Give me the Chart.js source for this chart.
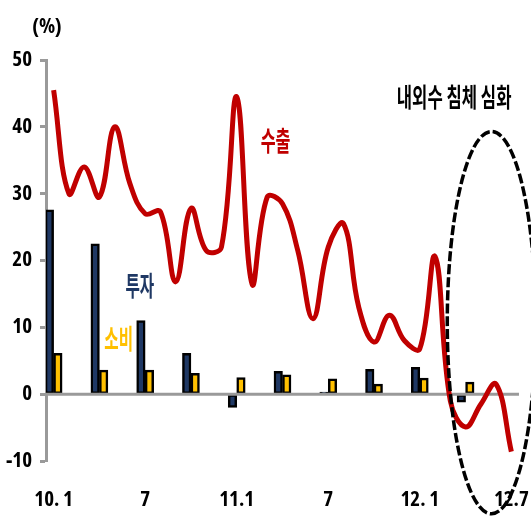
<!DOCTYPE html>
<html>
<head>
<meta charset="utf-8">
<script src="https://cdn.jsdelivr.net/npm/chart.js@4.4.1/dist/chart.umd.min.js"></script>
<style>
  html, body { margin: 0; padding: 0; background: #ffffff; }
  #wrap { width: 531px; height: 516px; position: relative; }
</style>
</head>
<body>
<div id="wrap"><canvas id="chart"></canvas></div>
<script>
// Monthly axis labels, Jan 2010 .. Jul 2012
const monthLabels = ['10. 1','','','','','','7','','','','','','11.1','','','','','','7','','','','','','12. 1','','','','','','12.7'];
// Y axis ticks (%)
const yTicks = [50, 40, 30, 20, 10, 0, -10];
// 수출 (exports), monthly YoY %
const exportsYoY = [45.5, 30.0, 34.0, 29.5, 40.0, 31.5, 27.0, 27.3, 16.8, 27.8, 21.5, 22.0, 44.5, 16.5, 29.5, 28.5, 21.5, 11.3, 22.0, 25.5, 13.0, 7.8, 11.8, 8.0, 6.8, 20.6, -1.0, -4.9, -1.5, 1.5, -8.6];
// 투자 (investment), quarterly YoY %
const investmentYoY = [27.6, null, null, 22.5, null, null, 11.0, null, null, 6.1, null, null, -2.0, null, null, 3.4, null, null, 0.3, null, null, 3.7, null, null, 4.0, null, null, -1.2, null, null, null];
// 소비 (consumption), quarterly YoY %
const consumptionYoY = [6.1, null, null, 3.6, null, null, 3.6, null, null, 3.1, null, null, 2.5, null, null, 2.9, null, null, 2.3, null, null, 1.5, null, null, 2.4, null, null, 1.8, null, null, null];

const NUM_FONT = "'Open Sans', 'Roboto', sans-serif";
const NUM_WEIGHT = 'bold condensed';
const KR_FONT = "'Noto Sans CJK KR', sans-serif";
const AXIS_GRAY = '#9a9a9a';

// Text annotations placed in data coordinates (month index, %)
const notes = [
  { text: '수출', color: '#c00000', m: 14.55, v: 37.9, size: 27, sx: 0.6 },
  { text: '투자', color: '#1f3864', m: 5.65, v: 16.2, size: 27, sx: 0.58 },
  { text: '소비', color: '#ffc000', m: 4.27, v: 8.3, size: 27, sx: 0.58 },
  { text: '내외수 침체 심화', color: '#000000', m: 26.25, v: 44.4, size: 26, sx: 0.64 }
];
// Dashed ring around the mid-2012 slump (data coordinates)
const ring = { m: 28.7, v: 10.7, rm: 2.9, rv: 28.6 };

const overlay = {
  id: 'overlay',
  beforeDatasetDraw(chart, args) {
    // zero line sits above the bars but under the export line
    if (args.index !== 0) return;
    const { ctx, chartArea, scales } = chart;
    const y0 = scales.y.getPixelForValue(0);
    ctx.save();
    ctx.strokeStyle = AXIS_GRAY;
    ctx.lineWidth = 3;
    ctx.beginPath();
    ctx.moveTo(chartArea.left, y0);
    ctx.lineTo(chartArea.right, y0);
    ctx.stroke();
    ctx.restore();
  },
  afterDraw(chart) {
    const { ctx, scales } = chart;
    const xs = scales.x, ys = scales.y;
    const unit = xs.getPixelForValue(1) - xs.getPixelForValue(0);
    const px = m => xs.getPixelForValue(0) + m * unit;
    ctx.save();
    // unit label
    ctx.fillStyle = '#000';
    ctx.font = NUM_WEIGHT + ' 21px ' + NUM_FONT;
    ctx.textAlign = 'center';
    ctx.textBaseline = 'middle';
    ctx.fillText('(%)', 47, 27);
    // series / comment labels
    notes.forEach(n => {
      ctx.save();
      ctx.translate(px(n.m), ys.getPixelForValue(n.v));
      ctx.scale(n.sx, 1);
      ctx.font = 'bold ' + n.size + 'px ' + KR_FONT;
      ctx.fillStyle = n.color;
      ctx.textAlign = 'center';
      ctx.textBaseline = 'middle';
      ctx.fillText(n.text, 0, 0);
      ctx.restore();
    });
    // dashed ellipse
    const cx = px(ring.m), cy = ys.getPixelForValue(ring.v);
    const rx = ring.rm * unit;
    const ry = ys.getPixelForValue(0) - ys.getPixelForValue(ring.rv);
    ctx.strokeStyle = '#000';
    ctx.lineWidth = 3.5;
    ctx.setLineDash([10, 3]);
    ctx.beginPath();
    ctx.ellipse(cx, cy, rx, ry, 0, 0, Math.PI * 2);
    ctx.stroke();
    ctx.restore();
  }
};

new Chart(document.getElementById('chart'), {
  data: {
    labels: monthLabels,
    datasets: [
      {
        type: 'line',
        label: '수출',
        data: exportsYoY,
        borderColor: '#c00000',
        borderWidth: 5,
        pointRadius: 0,
        tension: 0.4,
        order: 0
      },
      {
        type: 'bar',
        label: '투자',
        data: investmentYoY,
        backgroundColor: '#1f3864',
        borderColor: '#000000',
        borderWidth: 2.5,
        borderSkipped: false,
        barThickness: 8.5,
        order: 1
      },
      {
        type: 'bar',
        label: '소비',
        data: consumptionYoY,
        backgroundColor: '#ffc000',
        borderColor: '#000000',
        borderWidth: 2.5,
        borderSkipped: false,
        barThickness: 8.5,
        order: 1
      }
    ]
  },
  options: {
    responsive: true,
    maintainAspectRatio: false,
    animation: false,
    layout: { padding: { top: 60, right: 12, left: 0, bottom: 0 } },
    plugins: { legend: { display: false }, tooltip: { enabled: false } },
    scales: {
      x: {
        type: 'category',
        offset: true,
        grid: { display: true, drawOnChartArea: false, tickLength: 24, tickColor: 'rgba(0,0,0,0)' },
        border: { display: false },
        afterFit(scale) { scale.height = 55; },
        ticks: {
          autoSkip: false,
          maxRotation: 0,
          padding: 2,
          color: '#000',
          font: { family: NUM_FONT, size: 21, weight: NUM_WEIGHT }
        }
      },
      y: {
        min: -10,
        max: 50,
        afterBuildTicks(scale) { scale.ticks = yTicks.map(v => ({ value: v })); },
        afterFit(scale) { scale.width = 46; },
        grid: { display: true, drawOnChartArea: false, tickLength: 6, tickColor: AXIS_GRAY, tickWidth: 3 },
        border: { display: true, color: AXIS_GRAY, width: 3 },
        ticks: {
          padding: 8,
          color: '#000',
          font: { family: NUM_FONT, size: 21, weight: NUM_WEIGHT }
        }
      }
    }
  },
  plugins: [overlay]
});
</script>
</body>
</html>
